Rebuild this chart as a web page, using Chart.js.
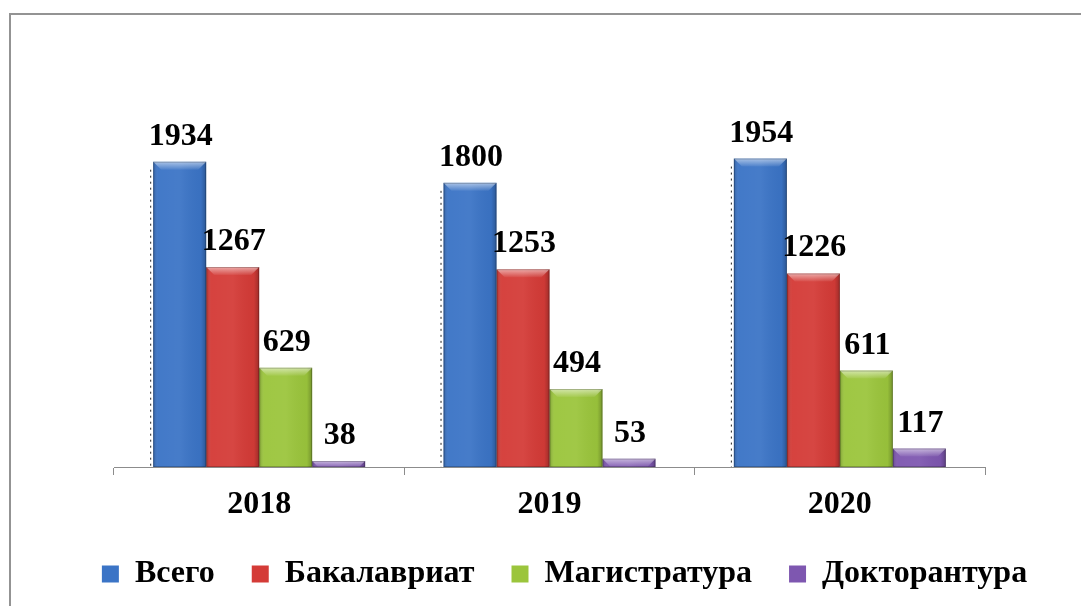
<!DOCTYPE html>
<html>
<head>
<meta charset="utf-8">
<script src="https://cdn.jsdelivr.net/npm/chart.js@4.4.1/dist/chart.umd.min.js"></script>
<style>
    html, body { margin: 0; padding: 0; background: #fff; overflow: hidden; }
    #frame {
        position: absolute; left: 9px; top: 13px;
        width: 1200px; height: 700px;
        border-top: 2px solid #939393; border-left: 2px solid #939393;
    }
    #wrap { position: absolute; left: 0; top: 0; width: 1081px; height: 606px; }
</style>
</head>
<body>
<div id="frame"></div>
<div id="wrap"><canvas id="chart"></canvas></div>
<script>
// Données du graphique
const years = ['2018', '2019', '2020'];
const seriesNames = ['Всего', 'Бакалавриат', 'Магистратура', 'Докторантура'];
const totalValues = [1934, 1800, 1954];
const bachelorValues = [1267, 1253, 1226];
const masterValues = [629, 494, 611];
const doctorValues = [38, 53, 117];
const seriesColors = ['#3b74c6', '#d43b37', '#9bc53c', '#7e57b0'];

const FONT = '"Liberation Serif", "Times New Roman", serif';

// Effet de relief sur les barres
const bevelPlugin = {
    id: 'bevel',
    afterDatasetsDraw(chart) {
        const ctx = chart.ctx;
        chart.data.datasets.forEach((ds, di) => {
            const meta = chart.getDatasetMeta(di);
            meta.data.forEach(bar => {
                const w = bar.width;
                const left = bar.x - w / 2;
                const top = bar.y;
                const h = bar.base - bar.y;
                if (h <= 0) return;
                ctx.save();
                // ombrage horizontal
                const g = ctx.createLinearGradient(left, 0, left + w, 0);
                g.addColorStop(0, 'rgba(0,0,0,0.20)');
                g.addColorStop(0.1, 'rgba(255,255,255,0.04)');
                g.addColorStop(0.5, 'rgba(255,255,255,0.06)');
                g.addColorStop(0.9, 'rgba(0,0,0,0.03)');
                g.addColorStop(1, 'rgba(0,0,0,0.25)');
                ctx.fillStyle = g;
                ctx.fillRect(left, top, w, h);
                // biseau du haut
                const bh = Math.min(8, h);
                const tg = ctx.createLinearGradient(0, top, 0, top + bh);
                tg.addColorStop(0, 'rgba(255,255,255,0.55)');
                tg.addColorStop(1, 'rgba(255,255,255,0.05)');
                ctx.fillStyle = tg;
                ctx.beginPath();
                ctx.moveTo(left, top);
                ctx.lineTo(left + w, top);
                ctx.lineTo(left + w - bh, top + bh);
                ctx.lineTo(left + bh, top + bh);
                ctx.closePath();
                ctx.fill();
                // contour foncé
                ctx.strokeStyle = 'rgba(0,0,0,0.22)';
                ctx.lineWidth = 1;
                ctx.strokeRect(left + 0.5, top + 0.5, w - 1, h - 1);
                // ombre pointillée à gauche de la première barre
                if (di === 0) {
                    ctx.strokeStyle = '#222';
                    ctx.setLineDash([2, 4]);
                    ctx.beginPath();
                    ctx.moveTo(left - 2.5, top + 8);
                    ctx.lineTo(left - 2.5, bar.base);
                    ctx.stroke();
                }
                ctx.restore();
            });
        });
    }
};

// Valeurs au-dessus des barres
const valueLabels = {
    id: 'valueLabels',
    afterDatasetsDraw(chart) {
        const ctx = chart.ctx;
        ctx.save();
        ctx.font = 'bold 32px ' + FONT;
        ctx.fillStyle = '#000';
        ctx.textAlign = 'center';
        ctx.textBaseline = 'alphabetic';
        chart.data.datasets.forEach((ds, di) => {
            chart.getDatasetMeta(di).data.forEach((bar, i) => {
                ctx.fillText(String(ds.data[i]), bar.x + 1, bar.y - 17);
            });
        });
        ctx.restore();
    }
};

const allValues = [totalValues, bachelorValues, masterValues, doctorValues];

new Chart(document.getElementById('chart'), {
    type: 'bar',
    data: {
        labels: years,
        datasets: seriesNames.map((name, i) => ({
            label: name,
            data: allValues[i],
            backgroundColor: seriesColors[i],
            borderWidth: 0
        }))
    },
    options: {
        responsive: true,
        maintainAspectRatio: false,
        animation: false,
        layout: { padding: { top: 25, left: 48, right: 0, bottom: 6 } },
        datasets: { bar: { categoryPercentage: 0.73, barPercentage: 1 } },
        scales: {
            x: {
                grid: {
                    offset: true,
                    drawOnChartArea: false,
                    drawTicks: true,
                    tickLength: 8,
                    color: '#8c8c8c'
                },
                border: { display: true, color: '#8c8c8c', width: 1 },
                ticks: {
                    color: '#000',
                    font: { family: FONT, size: 32, weight: 'bold' },
                    padding: 11
                },
                afterFit: (scale) => { scale.height = 54; }
            },
            y: {
                display: true,
                min: 0,
                max: 2800,
                grid: { display: false },
                border: { display: false },
                ticks: { display: false },
                afterFit: (scale) => { scale.width = 66; }
            },
            yRight: {
                position: 'right',
                display: true,
                grid: { display: false },
                border: { display: false },
                ticks: { display: false },
                afterFit: (scale) => { scale.width = 96; }
            }
        },
        plugins: {
            legend: {
                position: 'bottom',
                labels: {
                    color: '#000',
                    font: { family: FONT, size: 32, weight: 'bold' },
                    boxWidth: 17,
                    boxHeight: 17,
                    padding: 37
                }
            },
            tooltip: { enabled: false }
        }
    },
    plugins: [bevelPlugin, valueLabels]
});
</script>
</body>
</html>
